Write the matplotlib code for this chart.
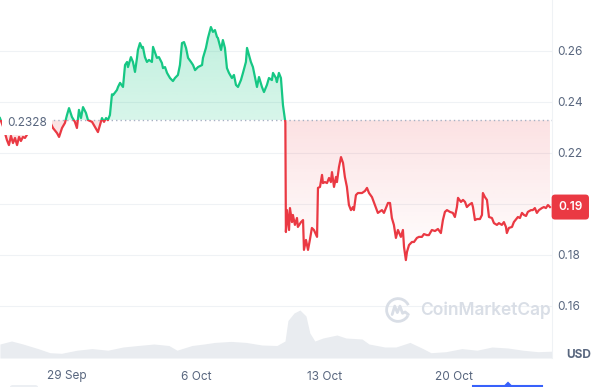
import numpy as np
import matplotlib
matplotlib.use("Agg")
import matplotlib.pyplot as plt
from matplotlib.path import Path
from matplotlib.patches import PathPatch, Rectangle, Arc, Polygon, FancyBboxPatch

plt.rcParams['font.family'] = ['Inter', 'DejaVu Sans']

# days relative to 29 Sep, price in USD
price_days = [-3.64, -3.45, -3.26, -3.15, -3.04, -2.93, -2.82, -2.71, -2.60, -2.50, -2.39, -2.28,
              -2.01, -1.57, -1.19, -0.92, -0.76, -0.54, -0.43, -0.27, -0.11, 0.00, 0.11, 0.27,
              0.43, 0.54, 0.65, 0.76, 0.87, 1.03, 1.14, 1.36, 1.52, 1.68, 1.90, 2.01, 2.12, 2.22,
              2.33, 2.44, 2.50, 2.71, 2.77, 2.88, 3.04, 3.15, 3.26, 3.31, 3.47, 3.58, 3.69, 3.80,
              3.85, 3.96, 4.07, 4.12, 4.23, 4.34, 4.45, 4.61, 4.67, 4.77, 4.88, 4.99, 5.15, 5.21,
              5.32, 5.43, 5.59, 5.75, 5.86, 6.02, 6.13, 6.24, 6.35, 6.46, 6.57, 6.73, 6.84, 6.95,
              7.11, 7.33, 7.38, 7.54, 7.65, 7.81, 7.92, 8.03, 8.14, 8.19, 8.36, 8.46, 8.57, 8.68,
              8.79, 8.95, 9.06, 9.17, 9.28, 9.44, 9.55, 9.71, 9.77, 9.88, 9.98, 10.09, 10.20, 10.31,
              10.42, 10.58, 10.69, 10.85, 10.96, 11.12, 11.18, 11.34, 11.39, 11.50, 11.61, 11.72,
              11.80, 11.85, 11.88, 11.94, 12.05, 12.10, 12.21, 12.26, 12.37, 12.48, 12.53, 12.70,
              12.81, 12.86, 12.97, 13.08, 13.18, 13.29, 13.40, 13.57, 13.62, 13.73, 13.84, 13.89,
              14.00, 14.11, 14.22, 14.32, 14.38, 14.49, 14.60, 14.65, 14.76, 14.87, 14.98, 15.08,
              15.19, 15.30, 15.41, 15.52, 15.57, 15.68, 15.79, 16.01, 16.17, 16.28, 16.39, 16.55,
              16.71, 16.87, 17.09, 17.20, 17.31, 17.42, 17.53, 17.63, 17.74, 17.85, 17.96, 18.12,
              18.23, 18.29, 18.39, 18.45, 18.56, 18.72, 18.83, 18.99, 19.10, 19.26, 19.37, 19.53,
              19.64, 19.80, 19.97, 20.13, 20.29, 20.40, 20.51, 20.62, 20.78, 20.94, 21.05, 21.16,
              21.22, 21.38, 21.49, 21.60, 21.70, 21.81, 21.97, 22.03, 22.14, 22.25, 22.41, 22.52,
              22.57, 22.68, 22.79, 22.90, 23.06, 23.17, 23.33, 23.44, 23.60, 23.71, 23.82, 23.87,
              23.98, 24.15, 24.25, 24.42, 24.47, 24.58, 24.69, 24.80, 24.91, 25.01, 25.18, 25.28,
              25.39, 25.50, 25.61, 25.77, 25.88, 25.99, 26.10, 26.21]
price_usd = [0.2337, 0.2300, 0.2251, 0.2231, 0.2267, 0.2239, 0.2259, 0.2231, 0.2263, 0.2247, 0.2263, 0.2259,
             0.2290, 0.2318, 0.2310, 0.2322, 0.2298, 0.2278, 0.2263, 0.2298, 0.2318, 0.2349, 0.2376, 0.2341,
             0.2322, 0.2298, 0.2369, 0.2337, 0.2380, 0.2357, 0.2329, 0.2322, 0.2302, 0.2282, 0.2337, 0.2322, 0.2337, 0.2329,
             0.2349, 0.2430, 0.2427, 0.2447, 0.2459, 0.2475, 0.2459, 0.2545, 0.2557, 0.2537, 0.2576, 0.2557, 0.2518, 0.2573,
             0.2604, 0.2631, 0.2612, 0.2616, 0.2576, 0.2557, 0.2565, 0.2557, 0.2616, 0.2596, 0.2573, 0.2576, 0.2553, 0.2533,
             0.2537, 0.2514, 0.2494, 0.2482, 0.2494, 0.2506, 0.2545, 0.2631, 0.2635, 0.2612, 0.2573, 0.2557, 0.2545, 0.2525,
             0.2537, 0.2545, 0.2573, 0.2612, 0.2651, 0.2694, 0.2675, 0.2682, 0.2655, 0.2651, 0.2604, 0.2643, 0.2612, 0.2533,
             0.2514, 0.2494, 0.2506, 0.2467, 0.2459, 0.2486, 0.2514, 0.2557, 0.2612, 0.2584, 0.2557, 0.2537, 0.2498, 0.2459,
             0.2498, 0.2459, 0.2439, 0.2467, 0.2494, 0.2486, 0.2514, 0.2494, 0.2478, 0.2514, 0.2494, 0.2388,
             0.2345, 0.2320, 0.1890, 0.1976, 0.1898, 0.1984, 0.1929, 0.1957, 0.1918, 0.1945, 0.1910, 0.1929,
             0.1937, 0.1820, 0.1859, 0.1820, 0.1859, 0.1906, 0.1898, 0.1871, 0.2063, 0.2067, 0.2114, 0.2082,
             0.2086, 0.2082, 0.2102, 0.2086, 0.2125, 0.2067, 0.2106, 0.2086, 0.2145, 0.2184, 0.2161, 0.2106,
             0.2067, 0.1996, 0.1976, 0.1988, 0.1976, 0.2035, 0.2043, 0.2043, 0.2051, 0.2063, 0.2043, 0.2027,
             0.1996, 0.1965, 0.1976, 0.1965, 0.1984, 0.2004, 0.2004, 0.1945, 0.1918, 0.1867, 0.1898, 0.1871,
             0.1898, 0.1831, 0.1780, 0.1812, 0.1839, 0.1851, 0.1851, 0.1867, 0.1871, 0.1871, 0.1882, 0.1878,
             0.1878, 0.1898, 0.1894, 0.1902, 0.1886, 0.1937, 0.1969, 0.1976, 0.1969, 0.1965, 0.1949, 0.1988,
             0.2024, 0.2008, 0.2016, 0.2008, 0.1988, 0.1996, 0.2004, 0.1988, 0.1937, 0.1941, 0.1941, 0.1957,
             0.2043, 0.2027, 0.2016, 0.1949, 0.1945, 0.1925, 0.1918, 0.1925, 0.1918, 0.1929, 0.1910, 0.1886,
             0.1906, 0.1910, 0.1929, 0.1945, 0.1949, 0.1945, 0.1965, 0.1957, 0.1953, 0.1969, 0.1976, 0.1976,
             0.1984, 0.1965, 0.1976, 0.1984, 0.1988, 0.1984, 0.1996, 0.1988]

# volume, arbitrary units (only the shape matters)
vol_days = [-3.64, -3.01, -2.39, -1.57, -0.92, -0.30, 0.54, 1.36, 2.22, 3.04, 3.85, 4.72, 5.53, 5.97,
            6.78, 7.43, 8.03, 8.90, 9.71, 10.58, 11.39, 11.83, 11.99, 12.32, 12.64, 12.97, 13.18, 13.45,
            13.89, 14.65, 15.14, 16.01, 16.39, 17.25, 17.85, 18.61, 19.32, 19.75, 20.56, 21.43, 22.25,
            23.06, 23.93, 24.74, 25.56, 26.42]
vol = [14, 17, 14, 9.4, 5.3, 4.7, 7.8, 9.4, 7.8, 11, 12.5, 14, 12.5, 7.8,
       12.5, 14, 15.6, 16.6, 15.6, 13, 12.5, 17, 37.5, 45, 48, 42, 25, 17,
       20, 23, 20, 19, 14, 11, 11, 15.6, 9.4, 5.3, 6.3, 9.4, 7.8,
       11, 10, 7.8, 6.3, 6.9]

baseline = 0.2328
last_label = "0.19"
xticks = [0, 7, 14, 21]
xtick_labels = ["29 Sep", "6 Oct", "13 Oct", "20 Oct"]
yticks = [0.16, 0.18, 0.20, 0.22, 0.24, 0.26]
ytick_labels = ["0.16", "0.18", "", "0.22", "0.24", "0.26"]

GREEN = '#16c784'
RED = '#ea3943'
GREY = '#58667e'

x = np.array(price_days)
p = np.array(price_usd)
xmin, xmax = -3.635, 26.32

fig = plt.figure(figsize=(6, 3.87), dpi=100)
fig.patch.set_facecolor('white')

# volume strip at the bottom
axv = fig.add_axes([0, 29 / 387, 552 / 600, 50 / 387], zorder=0)
axv.fill_between(vol_days, vol, 0, color='#e9ecf0', lw=0)
axv.set_xlim(xmin, xmax)
axv.set_ylim(0, 50)
axv.axis('off')

ax = fig.add_axes([0, 29 / 387, 552 / 600, 358 / 387], zorder=1)
ax.patch.set_alpha(0)
ax.set_xlim(xmin, xmax)
ax.set_ylim(0.1396, 0.28)

for s in ['top', 'left', 'bottom']:
    ax.spines[s].set_visible(False)
ax.spines['right'].set_color('#eff2f5')
ax.set_yticks(yticks)
ax.set_yticklabels(ytick_labels)
ax.set_xticks(xticks)
ax.set_xticklabels(xtick_labels)
ax.yaxis.tick_right()
ax.tick_params(axis='y', length=0, pad=3.6, labelsize=8.5, labelcolor=GREY)
ax.tick_params(axis='x', length=0, pad=9, labelsize=8.5, labelcolor=GREY)
ax.grid(axis='y', color='#eff2f5', lw=0.8)
ax.set_axisbelow(True)


def gradient_fill(coll, y0, y1, a0, a1, color):
    paths = coll.get_paths()
    coll.remove()
    if not paths:
        return
    clip = PathPatch(Path.make_compound_path(*paths), transform=ax.transData,
                     facecolor='none', edgecolor='none')
    ax.add_patch(clip)
    rgb = matplotlib.colors.to_rgb(color)
    img = np.zeros((256, 1, 4))
    img[:, 0, :3] = rgb
    img[:, 0, 3] = np.linspace(a0, a1, 256)
    im = ax.imshow(img, extent=[xmin, xmax, y0, y1], origin='lower',
                   aspect='auto', zorder=1, interpolation='bilinear')
    im.set_clip_path(clip)


g = ax.fill_between(x, p, baseline, where=p >= baseline, interpolate=True)
gradient_fill(g, baseline, p.max(), 0.17, 0.27, GREEN)
r = ax.fill_between(x, p, baseline, where=p <= baseline, interpolate=True)
gradient_fill(r, 0.178, baseline, 0.0, 0.15, RED)
ax.set_xlim(xmin, xmax)
ax.set_ylim(0.1396, 0.28)

ax.axhline(baseline, color='#a6b0c3', lw=1, ls=(0, (1, 2.2)), zorder=2)

lg, = ax.plot(x, p, color=GREEN, lw=1.6, zorder=3, solid_joinstyle='round')
lg.set_clip_path(Rectangle((xmin, baseline), xmax - xmin, 1, transform=ax.transData))
lr, = ax.plot(x, p, color=RED, lw=1.6, zorder=3, solid_joinstyle='round')
lr.set_clip_path(Rectangle((xmin, 0), xmax - xmin, baseline, transform=ax.transData))

ax.text(7 / 552, baseline - 0.0012, "0.2328", transform=ax.get_yaxis_transform(),
        ha='left', va='center', fontsize=8.5, color=GREY, zorder=5,
        bbox=dict(boxstyle='square,pad=0.45', fc='white', ec='none'))

ax.annotate(last_label, xy=(1, p[-1]), xycoords=('axes fraction', 'data'),
            xytext=(4.4, 0), textcoords='offset points', ha='left', va='center',
            fontsize=8.5, color='white', fontweight='semibold', annotation_clip=False,
            bbox=dict(boxstyle='round,pad=0.55,rounding_size=0.3', fc=RED, ec='none'))

fig.text(566 / 600, 1 - 355 / 387, "USD", ha='left', va='center', fontsize=8.5,
         color=GREY, fontweight='bold')

# CoinMarketCap watermark
WM = '#d9dee6'
fig.text(420 / 600, 1 - 310 / 387, "CoinMarketCap", ha='left', va='center',
         fontsize=12.5, color=WM, fontweight='semibold')
axl = fig.add_axes([385 / 600, 1 - 323 / 387, 26 / 600, 26 / 387], zorder=2)
axl.set_xlim(-1, 1)
axl.set_ylim(-1, 1)
axl.axis('off')
axl.add_patch(Arc((0, 0), 1.75, 1.75, theta1=25, theta2=330, color=WM, lw=2))
axl.plot([-0.45, -0.25, -0.05, 0.15, 0.35, 0.55, 0.8], [-0.35, 0.3, -0.2, 0.3, -0.25, -0.15, -0.35],
         color=WM, lw=2, solid_joinstyle='round', solid_capstyle='round')

# navigator bits at the bottom edge
fig.add_artist(FancyBboxPatch((10 / 600, -4 / 387), 28 / 600, 6 / 387,
                              boxstyle='round,pad=0,rounding_size=0.005',
                              transform=fig.transFigure, fc='#eceff3', ec='none'))
fig.add_artist(plt.Line2D([473 / 600, 542 / 600], [1.5 / 387, 1.5 / 387],
                          transform=fig.transFigure, color='#3861fb', lw=1.5))
fig.add_artist(Polygon([[504 / 600, 1.5 / 387], [508 / 600, 5.5 / 387], [512 / 600, 1.5 / 387]],
                       closed=True, transform=fig.transFigure, fc='#3861fb', ec='none'))

fig.savefig('out.png', dpi=100)
